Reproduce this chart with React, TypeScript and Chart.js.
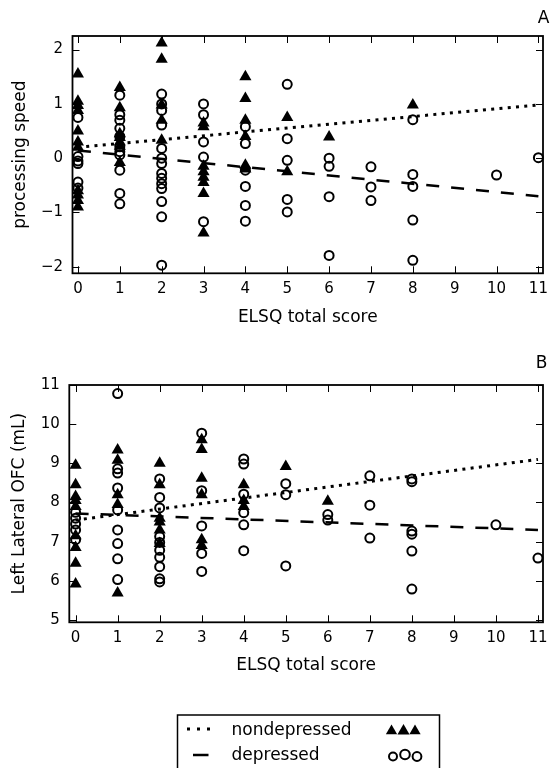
import React, { useEffect, useRef } from 'react';
import { Chart, registerables } from 'chart.js';

Chart.register(...registerables);

const FONT = "'DejaVu Sans', 'Liberation Sans', sans-serif";

// ELSQ total score categories
const scores = [0, 1, 2, 3, 4, 5, 6, 7, 8, 10, 11];
const xTicks = [0, 1, 2, 3, 4, 5, 6, 7, 8, 9, 10, 11];
const lineX = [0, 11];

// Panel A: processing speed
const topYTicks = [-2, -1, 0, 1, 2];
const topNondep: number[][] = [
  [1.55, 1.05, 0.97, 0.88, 0.5, 0.3, 0.2, -0.6, -0.68, -0.78, -0.9],
  [1.3, 0.93, 0.45, 0.38, 0.3, 0.22, -0.08],
  [2.12, 1.82, 0.98, 0.7, 0.33],
  [0.65, 0.58, -0.15, -0.25, -0.35, -0.45, -0.65, -1.38],
  [1.5, 1.1, 0.7, 0.4, -0.13, -0.2],
  [0.75, -0.25],
  [0.39],
  [],
  [0.98],
  [],
  [],
];
const topDep: number[][] = [
  [0.75, 0.03, -0.05, -0.1, -0.44, -0.55],
  [1.16, 0.8, 0.7, 0.55, 0.4, 0.21, 0.12, 0.06, -0.22, -0.65, -0.84],
  [1.18, 1.0, 0.88, 0.61, 0.18, 0.0, -0.1, -0.28, -0.37, -0.47, -0.56, -0.8, -1.08, -1.97],
  [1.0, 0.8, 0.3, 0.02, -1.17],
  [0.58, 0.27, -0.22, -0.52, -0.87, -1.16],
  [1.36, 0.36, -0.04, -0.76, -0.99],
  [0.0, -0.15, -0.71, -1.79],
  [-0.16, -0.53, -0.78],
  [0.71, -0.3, -0.52, -1.14, -1.88],
  [-0.31],
  [0.01],
];
const topNondepLine = [0.2, 0.98];
const topDepLine = [0.14, -0.7];

// Panel B: Left Lateral OFC (mL)
const botYTicks = [5, 6, 7, 8, 9, 10, 11];
const botNondep: number[][] = [
  [8.95, 8.45, 8.15, 8.05, 7.9, 7.15, 6.85, 6.45, 5.92],
  [9.34, 9.08, 8.2, 7.95, 5.69],
  [9.0, 8.45, 7.6, 7.5, 7.3, 6.95],
  [9.6, 9.35, 8.62, 8.2, 7.05, 6.9],
  [8.45, 8.05, 7.9],
  [8.92],
  [8.03],
  [],
  [],
  [],
  [],
];
const botDep: number[][] = [
  [7.75, 7.6, 7.45, 7.3, 7.05],
  [10.78, 8.86, 8.75, 8.37, 7.81, 7.3, 6.95, 6.56, 6.03],
  [8.6, 8.13, 7.86, 7.13, 6.98, 6.78, 6.6, 6.36, 6.05, 5.97],
  [9.77, 8.3, 7.4, 6.7, 6.24],
  [9.11, 8.98, 8.21, 7.74, 7.43, 6.77],
  [8.48, 8.2, 6.38],
  [7.69, 7.55],
  [8.68, 7.93, 7.09],
  [8.6, 8.53, 7.27, 7.19, 6.76, 5.79],
  [7.43],
  [6.58],
];
const botNondepLine = [7.55, 9.1];
const botDepLine = [7.72, 7.3];

const legendLabels = ['nondepressed', 'depressed'];

function toPoints(groups: number[][]) {
  const pts: { x: number; y: number }[] = [];
  groups.forEach((ys, i) => ys.forEach((y) => pts.push({ x: scores[i], y })));
  return pts;
}
function linePoints(ys: number[]) {
  return lineX.map((x, i) => ({ x, y: ys[i] }));
}
function fmt(v: number) {
  return v < 0 ? '\u2212' + Math.abs(v) : String(v);
}

const frameTicks = {
  id: 'frameTicks',
  afterDatasetsDraw(chart: any) {
    const { ctx, chartArea: a, scales } = chart;
    const x = scales.x;
    const y = scales.y;
    const L = 7;
    ctx.save();
    ctx.strokeStyle = '#000';
    ctx.lineWidth = 1;
    ctx.beginPath();
    x.ticks.forEach((t: any) => {
      const px = Math.round(x.getPixelForValue(t.value)) + 0.5;
      ctx.moveTo(px, a.bottom);
      ctx.lineTo(px, a.bottom - L);
      ctx.moveTo(px, a.top);
      ctx.lineTo(px, a.top + L);
    });
    y.ticks.forEach((t: any) => {
      const py = Math.round(y.getPixelForValue(t.value)) + 0.5;
      ctx.moveTo(a.left, py);
      ctx.lineTo(a.left + L, py);
      ctx.moveTo(a.right, py);
      ctx.lineTo(a.right - L, py);
    });
    ctx.stroke();
    ctx.lineWidth = 1.8;
    ctx.strokeRect(a.left, a.top, a.right - a.left, a.bottom - a.top);
    ctx.restore();
  },
};

function panelLabel(text: string, x: number, y: number) {
  return {
    id: 'panelLabel' + text,
    afterDraw(chart: any) {
      const { ctx } = chart;
      ctx.save();
      ctx.fillStyle = '#000';
      ctx.font = `17px ${FONT}`;
      ctx.textAlign = 'right';
      ctx.textBaseline = 'alphabetic';
      ctx.fillText(text, x, y);
      ctx.restore();
    },
  };
}

const legendBox = {
  id: 'legendBox',
  afterDraw(chart: any) {
    const { ctx } = chart;
    const oy = 340;
    ctx.save();
    ctx.strokeStyle = '#000';
    ctx.fillStyle = '#000';
    ctx.lineWidth = 1.5;
    ctx.strokeRect(177.5, 715 - oy, 262, 70);
    // dotted sample
    ctx.lineWidth = 3;
    ctx.setLineDash([3, 7]);
    ctx.beginPath();
    ctx.moveTo(187, 729 - oy);
    ctx.lineTo(211, 729 - oy);
    ctx.stroke();
    // dashed sample
    ctx.setLineDash([]);
    ctx.lineWidth = 2.5;
    ctx.beginPath();
    ctx.moveTo(193, 755 - oy);
    ctx.lineTo(208.5, 755 - oy);
    ctx.stroke();
    // text
    ctx.font = `17px ${FONT}`;
    ctx.textAlign = 'left';
    ctx.textBaseline = 'alphabetic';
    ctx.fillText(legendLabels[0], 231.5, 734.5 - oy);
    ctx.fillText(legendLabels[1], 231.5, 760 - oy);
    // triangles
    const tri = [
      [391.5, 6.5],
      [403.5, 7],
      [415, 6.5],
    ];
    tri.forEach(([cx, r]) => {
      const cy = 731 - oy;
      ctx.beginPath();
      ctx.moveTo(cx, cy - r);
      ctx.lineTo(cx + r * 0.866, cy + r / 2);
      ctx.lineTo(cx - r * 0.866, cy + r / 2);
      ctx.closePath();
      ctx.fill();
    });
    // circles
    const circ = [
      [393, 756.5, 4],
      [405, 754.5, 4.8],
      [417, 756.5, 4.4],
    ];
    ctx.lineWidth = 2;
    circ.forEach(([cx, cy, r]) => {
      ctx.beginPath();
      ctx.arc(cx, cy - oy, r, 0, Math.PI * 2);
      ctx.stroke();
    });
    ctx.restore();
  },
};

function buildDatasets(nondep: number[][], dep: number[][], nondepLine: number[], depLine: number[]) {
  return [
    {
      label: 'nondepressed fit',
      data: linePoints(nondepLine),
      showLine: true,
      borderColor: '#000',
      borderWidth: 3,
      borderDash: [3, 5.3],
      borderCapStyle: 'butt',
      pointRadius: 0,
      fill: false,
    },
    {
      label: 'depressed fit',
      data: linePoints(depLine),
      showLine: true,
      borderColor: '#000',
      borderWidth: 2.5,
      borderDash: [13, 12],
      borderCapStyle: 'butt',
      pointRadius: 0,
      fill: false,
    },
    {
      label: 'depressed',
      data: toPoints(dep),
      pointStyle: 'circle',
      pointRadius: 4.5,
      borderWidth: 2,
      borderColor: '#000',
      backgroundColor: 'rgba(0,0,0,0)',
    },
    {
      label: 'nondepressed',
      data: toPoints(nondep),
      pointStyle: 'triangle',
      pointRadius: 7,
      borderWidth: 0,
      borderColor: '#000',
      backgroundColor: '#000',
    },
  ];
}

function buildConfig(p: {
  nondep: number[][];
  dep: number[][];
  nondepLine: number[];
  depLine: number[];
  yMin: number;
  yMax: number;
  yTicks: number[];
  yTitle: string;
  yWidth: number;
  yTitlePad: number;
  xMin: number;
  xMax: number;
  xHeight: number;
  xTitlePad: number;
  padding: any;
  plugins: any[];
}) {
  return {
    type: 'scatter' as const,
    data: { datasets: buildDatasets(p.nondep, p.dep, p.nondepLine, p.depLine) as any },
    options: {
      animation: false,
      responsive: true,
      maintainAspectRatio: false,
      clip: false,
      layout: { padding: p.padding },
      plugins: { legend: { display: false }, tooltip: { enabled: false }, title: { display: false } },
      scales: {
        x: {
          type: 'linear',
          min: p.xMin,
          max: p.xMax,
          afterBuildTicks: (s: any) => {
            s.ticks = xTicks.map((v) => ({ value: v }));
          },
          afterFit: (s: any) => {
            s.height = p.xHeight;
            s.paddingLeft = 0;
            s.paddingRight = 0;
          },
          grid: { display: false, drawTicks: false },
          border: { display: false },
          ticks: {
            padding: 7,
            color: '#000',
            maxRotation: 0,
            autoSkip: false,
            font: { family: FONT, size: 15 },
            callback: (v: any) => fmt(Number(v)),
          },
          title: {
            display: true,
            text: 'ELSQ total score',
            color: '#000',
            font: { family: FONT, size: 17 },
            padding: { top: 0, bottom: p.xTitlePad },
          },
        },
        y: {
          type: 'linear',
          min: p.yMin,
          max: p.yMax,
          afterBuildTicks: (s: any) => {
            s.ticks = p.yTicks.map((v) => ({ value: v }));
          },
          afterFit: (s: any) => {
            s.width = p.yWidth;
            s.paddingTop = 0;
            s.paddingBottom = 0;
          },
          grid: { display: false, drawTicks: false },
          border: { display: false },
          ticks: {
            padding: 9.5,
            color: '#000',
            autoSkip: false,
            font: { family: FONT, size: 15 },
            callback: (v: any) => fmt(Number(v)),
          },
          title: {
            display: true,
            text: p.yTitle,
            color: '#000',
            font: { family: FONT, size: 17 },
            padding: { top: p.yTitlePad, bottom: 0 },
          },
        },
      },
    },
    plugins: p.plugins,
  };
}

export default function App() {
  const topRef = useRef<HTMLCanvasElement>(null);
  const botRef = useRef<HTMLCanvasElement>(null);

  useEffect(() => {
    const c1 = new Chart(
      topRef.current as HTMLCanvasElement,
      buildConfig({
        nondep: topNondep,
        dep: topDep,
        nondepLine: topNondepLine,
        depLine: topDepLine,
        yMin: -2.12,
        yMax: 2.25,
        yTicks: topYTicks,
        yTitle: 'processing speed',
        yWidth: 72.5,
        yTitlePad: 10,
        xMin: -0.13,
        xMax: 11.11,
        xHeight: 61.7,
        xTitlePad: 7.3,
        padding: { top: 36, right: 3, left: 0, bottom: 0 },
        plugins: [frameTicks, panelLabel('A', 549.3, 22.7)],
      }) as any
    );
    const c2 = new Chart(
      botRef.current as HTMLCanvasElement,
      buildConfig({
        nondep: botNondep,
        dep: botDep,
        nondepLine: botNondepLine,
        depLine: botDepLine,
        yMin: 4.94,
        yMax: 11,
        yTicks: botYTicks,
        yTitle: 'Left Lateral OFC (mL)',
        yWidth: 69.3,
        yTitlePad: 9.3,
        xMin: -0.15,
        xMax: 11.12,
        xHeight: 60,
        xTitlePad: 6.4,
        padding: { top: 45, right: 6.5, left: 0, bottom: 85.7 },
        plugins: [frameTicks, panelLabel('B', 547.3, 28.3), legendBox],
      }) as any
    );
    return () => {
      c1.destroy();
      c2.destroy();
    };
  }, []);

  return (
    <div style={{ position: 'absolute', left: 0, top: 0, width: 550, height: 768, background: '#fff', overflow: 'hidden' }}>
      <div style={{ position: 'absolute', left: 0, top: 0, width: 550, height: 335 }}>
        <canvas ref={topRef} />
      </div>
      <div style={{ position: 'absolute', left: 0, top: 340, width: 550, height: 428 }}>
        <canvas ref={botRef} />
      </div>
    </div>
  );
}
